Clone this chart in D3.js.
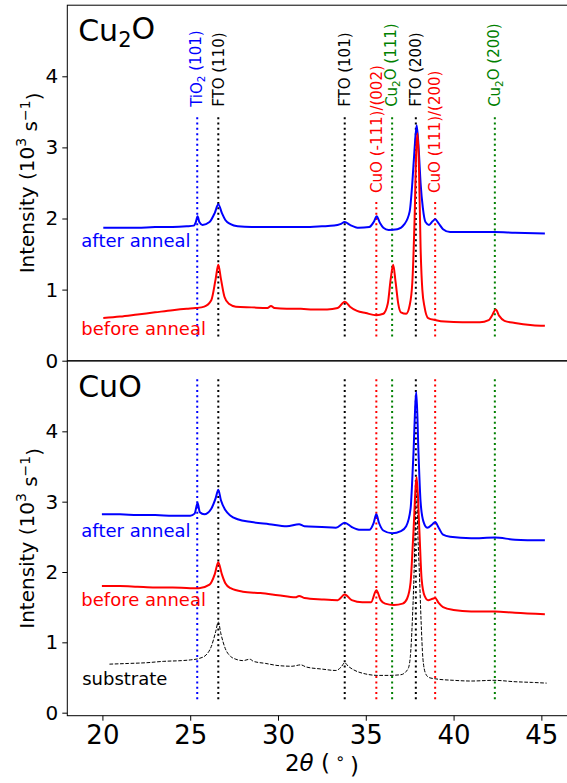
<!DOCTYPE html>
<html>
<head>
<meta charset="utf-8">
<script src="https://cdn.jsdelivr.net/npm/d3@7"></script>
<style>
  body { margin: 0; background: #fff; }
  svg { display: block; font-family: "DejaVu Sans", sans-serif; }
</style>
</head>
<body>
<div id="chart"></div>
<script>
// XRD scans, 2theta (deg) vs intensity (10^3 counts/s)
const cu2oAfter = [[20.05,1.87],[21,1.87],[22,1.87],[23,1.88],[24,1.88],[24.8,1.89],[25.2,1.9],[25.32,1.95],[25.42,2.03],[25.52,1.95],
  [25.7,1.91],[26.1,1.95],[26.4,2.08],[26.6,2.2],[26.8,2.08],[27.0,1.98],[27.3,1.92],[27.7,1.89],[28.5,1.88],[29.5,1.88],[30.5,1.88],
  [31.5,1.88],[32.5,1.89],[33.2,1.9],[33.55,1.92],[33.8,1.95],[34.1,1.91],[34.6,1.87],[35.2,1.88],[35.45,1.95],[35.62,2.03],[35.8,1.94],
  [36.0,1.87],[36.3,1.84],[36.8,1.85],[37.2,1.92],[37.5,2.1],[37.65,2.5],[37.77,2.95],[37.9,3.31],[38.02,2.95],[38.12,2.5],[38.25,2.15],
  [38.4,1.95],[38.6,1.91],[38.8,1.96],[38.95,1.99],[39.15,1.93],[39.4,1.85],[39.8,1.81],[41,1.81],[42.35,1.81],[43.5,1.8],[45.2,1.79]];
const cu2oBefore = [[20.05,0.6],[21,0.62],[22,0.65],[23,0.68],[24,0.71],[24.8,0.73],[25.3,0.74],[25.8,0.76],[26.2,0.85],[26.45,1.15],
  [26.6,1.35],[26.75,1.15],[26.95,0.9],[27.2,0.8],[27.6,0.76],[28.5,0.75],[29.4,0.74],[29.6,0.77],[29.8,0.74],[30.5,0.73],[31.3,0.73],
  [32,0.72],[32.8,0.72],[33.4,0.74],[33.8,0.83],[34.1,0.76],[34.5,0.7],[35.0,0.67],[35.6,0.64],[36.0,0.66],[36.25,0.8],[36.42,1.15],
  [36.56,1.35],[36.7,1.1],[36.85,0.8],[37.0,0.68],[37.3,0.66],[37.5,0.78],[37.65,1.1],[37.78,2.0],[37.88,3.0],[37.95,3.2],[38.03,2.7],
  [38.12,1.6],[38.22,1.0],[38.35,0.75],[38.55,0.6],[39,0.57],[39.5,0.55],[40.5,0.54],[41.5,0.54],[42.0,0.57],[42.2,0.64],[42.4,0.72],
  [42.6,0.63],[42.9,0.56],[43.5,0.53],[44.5,0.5],[45.2,0.49]];
const cuoAfter = [[19.97,2.82],[21,2.82],[22,2.81],[23,2.81],[24,2.8],[25.0,2.8],[25.25,2.83],[25.42,2.98],[25.55,2.85],[25.8,2.82],
  [26.2,2.9],[26.45,3.05],[26.6,3.17],[26.75,3.02],[27.0,2.88],[27.3,2.8],[27.7,2.75],[28.5,2.71],[29.5,2.68],[30.5,2.65],[31.2,2.68],
  [31.5,2.65],[32.5,2.64],[33.3,2.63],[33.8,2.7],[34.2,2.64],[34.7,2.6],[35.2,2.6],[35.45,2.7],[35.6,2.82],[35.75,2.7],[36.0,2.59],
  [36.5,2.55],[37.0,2.58],[37.3,2.65],[37.55,2.9],[37.7,3.6],[37.88,4.56],[38.0,3.7],[38.12,3.0],[38.28,2.72],[38.5,2.63],[38.8,2.68],
  [38.95,2.71],[39.15,2.63],[39.4,2.53],[39.8,2.5],[41,2.48],[42.35,2.49],[43.5,2.46],[45.2,2.45]];
const cuoBefore = [[19.97,1.8],[21,1.8],[22,1.79],[23,1.78],[24,1.78],[25,1.77],[25.5,1.77],[26.1,1.82],[26.4,1.97],[26.6,2.14],
  [26.8,1.97],[27.0,1.84],[27.3,1.77],[28,1.72],[29,1.7],[30,1.67],[31.0,1.64],[31.2,1.66],[31.5,1.63],[32.5,1.61],[33.4,1.6],
  [33.8,1.68],[34.2,1.6],[34.8,1.57],[35.3,1.57],[35.6,1.74],[35.85,1.6],[36.1,1.55],[36.6,1.53],[37.1,1.55],[37.35,1.62],[37.55,1.85],
  [37.7,2.5],[37.9,3.35],[38.05,2.6],[38.18,1.9],[38.35,1.66],[38.55,1.6],[38.8,1.62],[38.95,1.63],[39.15,1.56],[39.4,1.5],[40,1.46],
  [41,1.44],[42.35,1.44],[43.5,1.42],[45.2,1.4]];
const substrate = [[20.4,0.69],[21.5,0.7],[22.5,0.71],[23.5,0.73],[24.5,0.74],[25.0,0.75],[25.5,0.77],[25.9,0.82],[26.2,0.94],
  [26.45,1.15],[26.6,1.29],[26.75,1.12],[27.0,0.91],[27.3,0.8],[27.6,0.76],[28.0,0.74],[28.4,0.76],[28.6,0.73],[29.3,0.7],[30,0.67],
  [30.8,0.66],[31.3,0.68],[31.6,0.65],[32.5,0.62],[33.3,0.6],[33.6,0.65],[33.8,0.71],[34.0,0.66],[34.3,0.61],[35,0.55],[35.7,0.53],
  [36.3,0.53],[37.0,0.54],[37.4,0.62],[37.53,0.78],[37.65,1.3],[37.75,2.0],[37.8,2.5],[37.88,3.3],[37.97,2.5],[38.05,2.0],[38.15,1.3],
  [38.25,0.78],[38.4,0.56],[38.6,0.5],[39,0.48],[40,0.46],[41,0.45],[42.3,0.46],[43.5,0.44],[44.5,0.43],[45.3,0.42]];

// reference peak positions
const peakPos = [25.4, 26.6, 33.8, 35.6, 36.5, 37.85, 38.95, 42.35];
const peakColor = ['blue', 'black', 'black', 'red', 'green', 'black', 'red', 'green'];
const peakLabel = [['TiO', '2', ' (101)'], ['FTO (110)'], ['FTO (101)'], ['CuO (-111)/(002)'], ['Cu', '2', 'O (111)'],
  ['FTO (200)'], ['CuO (111)/(200)'], ['Cu', '2', 'O (200)']];
const yTicks = [0, 1, 2, 3, 4];
const xTicks = [20, 25, 30, 35, 40, 45];

const width = 567;
const height = 783;

const svg = d3.select('#chart').append('svg')
  .attr('width', width)
  .attr('height', height);

const x = d3.scaleLinear().domain([18, 47.2]).range([67.3, 580]);
const yTop = d3.scaleLinear().domain([0, 5]).range([360.7, 5.2]);
const yBot = d3.scaleLinear().domain([-0.043, 5]).range([715.7, 361]);

function addSub(sel, parts, subSize) {
  // parts: [before, sub, after]
  sel.append('tspan').text(parts[0]);
  if (parts.length > 1) {
    sel.append('tspan').attr('font-size', subSize).attr('dy', '0.25em').text(parts[1]);
    sel.append('tspan').attr('dy', '-0.25em').text(parts[2]);
  }
}

function drawPanel(y, opts) {
  const g = svg.append('g');

  // y axis
  const yAxis = g.append('g')
    .attr('transform', `translate(${x.range()[0]},0)`)
    .call(d3.axisLeft(y).tickValues(yTicks).tickSize(5).tickPadding(4).tickFormat(d3.format('d')));
  yAxis.select('.domain').remove();
  yAxis.selectAll('text').attr('font-size', 20).attr('font-family', 'DejaVu Sans').attr('fill', '#000');
  yAxis.selectAll('line').attr('stroke', '#000');

  // reference lines
  peakPos.forEach((p, i) => {
    const lineTop = (opts.redTop !== undefined && peakColor[i] === 'red') ? opts.redTop : opts.lineTop;
    g.append('line')
      .attr('x1', x(p)).attr('x2', x(p))
      .attr('y1', y(opts.lineBottom)).attr('y2', y(lineTop))
      .attr('stroke', peakColor[i])
      .attr('stroke-width', 2)
      .attr('stroke-dasharray', '2,3.3');
  });

  const line = d3.line()
    .x((d) => x(d[0]))
    .y((d) => y(d[1]))
    .curve(d3.curveMonotoneX);

  opts.series.forEach((s) => {
    g.append('path')
      .datum(s.data)
      .attr('d', line)
      .attr('fill', 'none')
      .attr('stroke', s.color)
      .attr('stroke-width', s.width)
      .attr('stroke-dasharray', s.dash || null)
      .attr('stroke-linejoin', 'round');
  });

  opts.texts.forEach((t) => {
    g.append('text')
      .attr('x', x(t.x))
      .attr('y', y(t.y))
      .attr('font-size', 18)
      .attr('fill', t.color)
      .text(t.text);
  });

  // title
  const title = g.append('text')
    .attr('x', x(18.62))
    .attr('y', y(4.49))
    .attr('font-size', 30)
    .attr('fill', '#000');
  addSub(title, opts.title, 21);

  // y label
  const yl = g.append('text')
    .attr('transform', `translate(34,${(y.range()[0] + y.range()[1]) / 2}) rotate(-90)`)
    .attr('text-anchor', 'middle')
    .attr('font-size', 20)
    .attr('fill', '#000');
  yl.append('tspan').text('Intensity (10');
  yl.append('tspan').attr('font-size', 14).attr('dy', '-0.55em').text('3');
  yl.append('tspan').attr('dy', '0.55em').text(' s');
  yl.append('tspan').attr('font-size', 14).attr('dy', '-0.55em').text('\u22121');
  yl.append('tspan').attr('dy', '0.55em').text(')');

  // frame
  g.append('rect')
    .attr('x', x.range()[0])
    .attr('y', y.range()[1])
    .attr('width', x.range()[1] - x.range()[0])
    .attr('height', y.range()[0] - y.range()[1])
    .attr('fill', 'none')
    .attr('stroke', '#000')
    .attr('stroke-width', 1);
  return g;
}

const topPanel = drawPanel(yTop, {
  title: ['Cu', '2', 'O'],
  lineBottom: 0.34,
  lineTop: 3.43,
  redTop: 2.26,
  series: [
    { data: cu2oAfter, color: 'blue', width: 2 },
    { data: cu2oBefore, color: 'red', width: 2 },
  ],
  texts: [
    { x: 18.8, y: 1.6, text: 'after anneal', color: 'blue' },
    { x: 18.8, y: 0.36, text: 'before anneal', color: 'red' },
  ],
});

// peak labels in top panel
peakPos.forEach((p, i) => {
  const base = peakColor[i] === 'red' ? 2.36 : 3.57;
  const t = topPanel.append('text')
    .attr('transform', `translate(${x(p)},${yTop(base)}) rotate(-90)`)
    .attr('dy', '0.35em')
    .attr('font-size', 15)
    .attr('fill', peakColor[i]);
  addSub(t, peakLabel[i], 10.5);
});

drawPanel(yBot, {
  title: ['CuO'],
  lineBottom: 0.19,
  lineTop: 4.77,
  series: [
    { data: substrate, color: 'black', width: 1, dash: '3.7,1.6' },
    { data: cuoAfter, color: 'blue', width: 2 },
    { data: cuoBefore, color: 'red', width: 2 },
  ],
  texts: [
    { x: 18.8, y: 2.5, text: 'after anneal', color: 'blue' },
    { x: 18.8, y: 1.51, text: 'before anneal', color: 'red' },
    { x: 18.85, y: 0.39, text: 'substrate', color: 'black' },
  ],
});

// x axis on bottom panel
const xAxis = svg.append('g')
  .attr('transform', `translate(0,${yBot.range()[0]})`)
  .call(d3.axisBottom(x).tickValues(xTicks).tickSize(5).tickPadding(5).tickFormat(d3.format('d')));
xAxis.select('.domain').remove();
xAxis.selectAll('text').attr('font-size', 26).attr('font-family', 'DejaVu Sans').attr('fill', '#000');
xAxis.selectAll('line').attr('stroke', '#000');

const xl = svg.append('text')
  .attr('x', 322)
  .attr('y', 771)
  .attr('text-anchor', 'middle')
  .attr('font-size', 23)
  .attr('fill', '#000');
xl.append('tspan').text('2');
xl.append('tspan').attr('font-style', 'italic').text('\u03b8');
xl.append('tspan').text(' (');
xl.append('tspan').attr('font-size', 16).attr('dy', '-0.45em').text(' \u2218 ');
xl.append('tspan').attr('dy', '0.45em').text(')');
</script>
</body>
</html>
